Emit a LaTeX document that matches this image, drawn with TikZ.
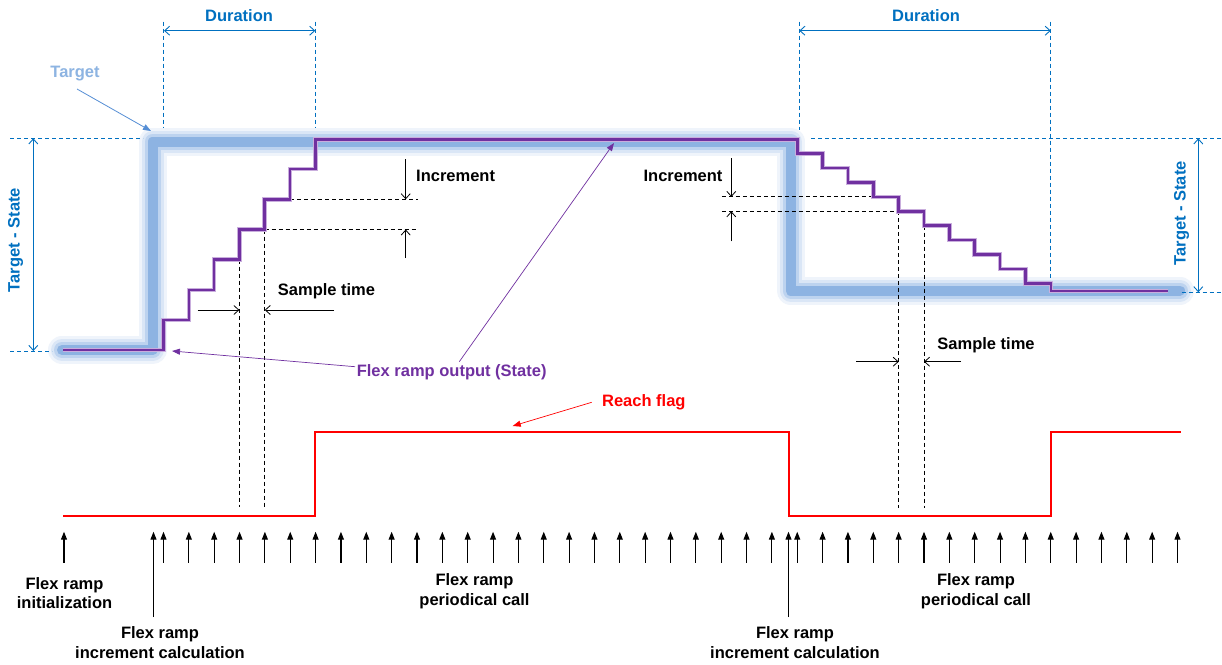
\documentclass[tikz,border=0pt]{standalone}
\usepackage{fontspec}
\setmainfont{Liberation Sans}
\usetikzlibrary{arrows.meta}
\definecolor{dblue}{HTML}{0070C0}
\definecolor{lblue}{HTML}{8DB4E2}
\definecolor{tarrow}{HTML}{558ED5}
\definecolor{core}{HTML}{8DB3E2}
\definecolor{glowA}{HTML}{EFF4FB}
\definecolor{glowB}{HTML}{DAE6F6}
\definecolor{glowC}{HTML}{BDD3EF}
\definecolor{purp}{HTML}{7030A0}
\definecolor{purpglow}{HTML}{C9AEDD}
\definecolor{rflag}{HTML}{FF0000}
\begin{document}
\begin{tikzpicture}[x=1pt,y=-1pt,
  lbl/.style={font=\fontsize{16.5}{19.5}\selectfont\bfseries, inner sep=0pt, align=center},
  bdash/.style={dblue, line width=0.9pt, dash pattern=on 4pt off 3pt},
  kdash/.style={black, line width=0.9pt, dash pattern=on 4pt off 3pt},
  dblarr/.style={line width=0.9pt, {Straight Barb[length=5pt,width=9pt]}-{Straight Barb[length=5pt,width=9pt]}},
  sarr/.style={line width=0.8pt, -{Straight Barb[length=5pt,width=9pt]}},
  tickarr/.style={line width=1.1pt, -{Triangle[length=8pt,width=6pt]}},
  fillarr/.style={line width=0.8pt, -{Triangle[length=8pt,width=6pt]}},
  glowline/.style={line join=round, line cap=round}
]
\fill[white] (0,0) rectangle (1222,664);
\useasboundingbox (0,0) rectangle (1222,664);

% ---------- target (blue glowing line)
\foreach \w/\c in {28/glowA,22/glowB,16/glowC,10/core}{
  \draw[glowline, line width=\w pt, color=\c] (62,350) -- (152.5,350) -- (152.5,141.5) -- (790.5,141.5) -- (790.5,290.5) -- (1180,290.5);
}

% ---------- blue dimension lines
\draw[bdash] (163.5,21.7) -- (163.5,128);
\draw[bdash] (315.3,21.7) -- (315.3,128);
\draw[bdash] (799.3,21.7) -- (799.3,130);
\draw[bdash] (1050.8,21.7) -- (1050.8,283);
\draw[bdash] (10,138.3) -- (143,138.3);
\draw[bdash] (10,351) -- (52,351);
\draw[bdash] (811,138.3) -- (1222,138.3);
\draw[bdash] (1181.7,292.3) -- (1222,292.3);

\coordinate (d1a) at (164,30.7);  \coordinate (d1b) at (315.3,30.7);
\coordinate (d2a) at (799.3,30.7); \coordinate (d2b) at (1050.8,30.7);
\coordinate (ts1a) at (33.3,138.3); \coordinate (ts1b) at (33.3,351);
\coordinate (ts2a) at (1198.3,138.3); \coordinate (ts2b) at (1198.3,292.3);
\draw[dblarr, dblue] (d1a) -- (d1b);
\draw[dblarr, dblue] (d2a) -- (d2b);
\draw[dblarr, dblue] (ts1a) -- (ts1b);
\draw[dblarr, dblue] (ts2a) -- (ts2b);

\node[lbl, text=dblue] (dur1) at (239,15.7) {Duration};
\node[lbl, text=dblue] (dur2) at (926,15.7) {Duration};
\node[lbl, text=dblue, rotate=90] (ts1) at (15.7,240) {Target - State};
\node[lbl, text=dblue, rotate=90] (ts2) at (1181.7,213.3) {Target - State};

\node[lbl, text=lblue] (target) at (75,74) {Target};
\coordinate (targetpt) at (151,131);
\draw[fillarr, tarrow] (77,89) -- (targetpt);

% ---------- black dashed helper lines
\draw[kdash] (290,199.3) -- (418,199.3);
\draw[kdash] (264.7,229.5) -- (418,229.5);
\draw[kdash] (239.4,259.5) -- (239.4,507);
\draw[kdash] (264.7,229.5) -- (264.7,507);
\draw[kdash] (721.8,196.9) -- (873.3,196.9);
\draw[kdash] (721.8,211.3) -- (898.7,211.3);
\draw[kdash] (898.7,211.3) -- (898.7,508);
\draw[kdash] (924,225.7) -- (924,508);

% increment arrows
\coordinate (i1a) at (405.7,159);   \coordinate (i1b) at (405.7,199.3);
\coordinate (i1c) at (405.7,258);   \coordinate (i1d) at (405.7,229.5);
\coordinate (i2a) at (731.3,158.3); \coordinate (i2b) at (731.3,196.9);
\coordinate (i2c) at (731.3,241.4); \coordinate (i2d) at (731.3,211.3);
\draw[sarr] (i1a) -- (i1b);
\draw[sarr] (i1c) -- (i1d);
\draw[sarr] (i2a) -- (i2b);
\draw[sarr] (i2c) -- (i2d);
\node[lbl, anchor=west] (inc1) at (416,176) {Increment};
\node[lbl] (inc2) at (683,176) {Increment};

% sample time arrows
\coordinate (s1a) at (197.7,310); \coordinate (s1b) at (239.4,310);
\coordinate (s1c) at (334,310);   \coordinate (s1d) at (264.7,310);
\coordinate (s2a) at (856,361.7); \coordinate (s2b) at (898.7,361.7);
\coordinate (s2c) at (961,361.7); \coordinate (s2d) at (924,361.7);
\draw[sarr] (s1a) -- (s1b);
\draw[sarr] (s1c) -- (s1d);
\draw[sarr] (s2a) -- (s2b);
\draw[sarr] (s2c) -- (s2d);
\node[lbl, anchor=west] (st1) at (277.7,291) {Sample time};
\node[lbl] (st2) at (986,345) {Sample time};

% ---------- purple state line
\foreach \w/\c in {4.5/purpglow,2.5/purp}{
\draw[line width=\w pt, color=\c, line join=miter]
  (63,350) -- (163.5,350) -- (163.5,320) -- (188.8,320) -- (188.8,290) -- (214.1,290)
  -- (214.1,259.5) -- (239.4,259.5) -- (239.4,229.5) -- (264.7,229.5) -- (264.7,199.3)
  -- (290,199.3) -- (290,169) -- (315.3,169) -- (315.3,139.3) -- (797.3,139.3)
  -- (797.3,153.7) -- (822.6,153.7) -- (822.6,168.1) -- (848,168.1) -- (848,182.5)
  -- (873.3,182.5) -- (873.3,196.9) -- (898.7,196.9) -- (898.7,211.3) -- (924,211.3)
  -- (924,225.7) -- (949.4,225.7) -- (949.4,240.1) -- (974.7,240.1) -- (974.7,254.5)
  -- (1000.1,254.5) -- (1000.1,268.9) -- (1025.4,268.9) -- (1025.4,283.3) -- (1050.8,283.3)
  -- (1050.8,291) -- (1168,291);
}

\node[lbl, text=purp] (state) at (451.7,372.3) {Flex ramp output (State)};
\coordinate (st_in) at (172,351);
\coordinate (st_top) at (614,143);
\draw[fillarr, purp, line width=0.7pt] (355,366.7) -- (st_in);
\draw[fillarr, purp, line width=0.7pt] (459.3,361.7) -- (st_top);

% ---------- reach flag
\draw[rflag, line width=2pt, line join=miter] (63.3,515.5) -- (315.3,515.5) -- (315.3,432) -- (788.5,432)
  -- (788.5,515.5) -- (1050.8,515.5) -- (1050.8,432) -- (1181,432);
\node[lbl, text=rflag] (reach) at (643.8,402.7) {Reach flag};
\coordinate (reachpt) at (512.7,426);
\draw[fillarr, rflag, line width=0.7pt] (591.7,402.3) -- (reachpt);

% ---------- call arrows
\draw[tickarr] (64,562.7) -- (64,531.7);
\foreach \k in {0,...,40}{
  \draw[tickarr] ({163.5+25.35*\k},562.7) -- ({163.5+25.35*\k},531.7);
}
\draw[tickarr] (153.5,617) -- (153.5,531.7);
\draw[tickarr] (788.5,617) -- (788.5,531.7);

\node[lbl] (init) at (64.5,593) {Flex ramp\\initialization};
\node[lbl] (calc1) at (160,642.7) {Flex ramp\\increment calculation};
\node[lbl] (per1) at (474.5,591.3) {Flex ramp\\periodical call};
\node[lbl] (per2) at (976,591.3) {Flex ramp\\periodical call};
\node[lbl] (calc2) at (795,642.7) {Flex ramp\\increment calculation};
\end{tikzpicture}
\end{document}
